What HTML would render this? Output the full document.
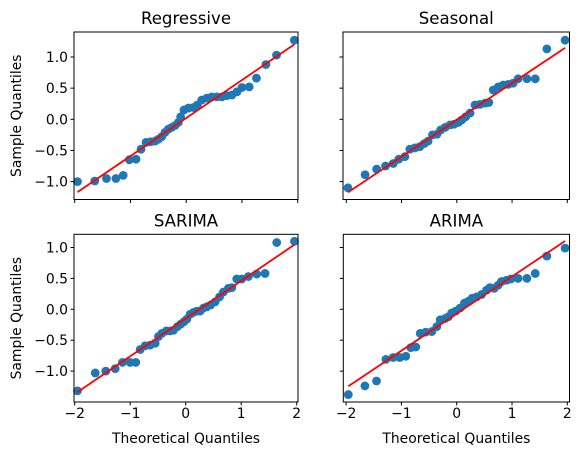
<!DOCTYPE html>
<html><head><meta charset="utf-8"><style>
body{margin:0;background:#fff}
svg{display:block;font-family:"DejaVu Sans","Liberation Sans",sans-serif}
</style></head><body>
<svg id="c" width="581" height="455" viewBox="0 0 581 455"></svg>
<script>
// ---- data ----
const titles = ["Regressive","Seasonal","SARIMA","ARIMA"];
const xTicks = [-2,-1,0,1,2];
const xTickLabels = ["\u22122","\u22121","0","1","2"];
const yTicksTop = [-1.0,-0.5,0.0,0.5,1.0];
const yTickLabelsTop = ["\u22121.0","\u22120.5","0.0","0.5","1.0"];
const yTicksBot = [-1.0,-0.5,0.0,0.5,1.0];
const yTickLabelsBot = ["\u22121.0","\u22120.5","0.0","0.5","1.0"];

const regX = [-1.95,-1.64,-1.43,-1.26,-1.13,-1.02,-0.90,-0.81,-0.72,-0.64,-0.56,-0.50,-0.44,-0.38,-0.32,-0.26,-0.20,-0.14,-0.10,-0.04,0.04,0.13,0.20,0.28,0.37,0.46,0.55,0.64,0.73,0.82,0.91,1.00,1.13,1.26,1.43,1.62,1.94];
const regY = [-1.00,-0.99,-0.95,-0.95,-0.90,-0.65,-0.64,-0.48,-0.37,-0.36,-0.35,-0.32,-0.28,-0.21,-0.16,-0.13,-0.10,-0.05,0.04,0.15,0.18,0.19,0.23,0.31,0.34,0.36,0.36,0.36,0.38,0.39,0.44,0.51,0.52,0.66,0.88,1.03,1.27];
const regLine = [0.61,0.02];

const seaX = [-1.97,-1.66,-1.45,-1.29,-1.15,-1.05,-0.94,-0.85,-0.76,-0.67,-0.59,-0.52,-0.44,-0.36,-0.29,-0.21,-0.12,-0.05,0.03,0.09,0.16,0.24,0.33,0.42,0.51,0.58,0.66,0.75,0.84,0.93,1.02,1.11,1.27,1.42,1.63,1.96];
const seaY = [-1.10,-0.89,-0.80,-0.75,-0.71,-0.64,-0.60,-0.48,-0.46,-0.44,-0.39,-0.35,-0.25,-0.24,-0.17,-0.13,-0.09,-0.08,-0.05,-0.01,0.04,0.10,0.23,0.24,0.26,0.27,0.47,0.52,0.55,0.56,0.58,0.65,0.65,0.65,1.13,1.27];
const seaLine = [0.59,-0.01];

const sarX = [-1.95,-1.63,-1.44,-1.27,-1.14,-1.00,-0.90,-0.82,-0.73,-0.64,-0.55,-0.49,-0.43,-0.35,-0.28,-0.22,-0.15,-0.09,-0.03,0.02,0.08,0.14,0.20,0.26,0.32,0.38,0.45,0.53,0.61,0.68,0.77,0.83,0.92,1.01,1.13,1.28,1.43,1.64,1.96];
const sarY = [-1.32,-1.03,-1.00,-0.96,-0.86,-0.86,-0.86,-0.65,-0.59,-0.58,-0.55,-0.44,-0.39,-0.35,-0.35,-0.34,-0.28,-0.24,-0.20,-0.16,-0.08,-0.05,-0.03,-0.03,0.02,0.04,0.07,0.12,0.20,0.28,0.34,0.35,0.49,0.49,0.53,0.57,0.58,1.08,1.10];
const sarLine = [0.61,-0.15];

const ariX = [-1.96,-1.66,-1.45,-1.28,-1.15,-1.03,-0.92,-0.83,-0.74,-0.66,-0.56,-0.45,-0.36,-0.30,-0.21,-0.15,-0.09,-0.02,0.06,0.14,0.21,0.28,0.36,0.45,0.54,0.60,0.68,0.75,0.81,0.90,0.98,1.11,1.27,1.42,1.63,1.96];
const ariY = [-1.38,-1.24,-1.16,-0.81,-0.78,-0.78,-0.76,-0.62,-0.61,-0.39,-0.37,-0.36,-0.28,-0.17,-0.15,-0.12,-0.06,-0.03,0.02,0.10,0.13,0.18,0.20,0.24,0.31,0.35,0.34,0.39,0.45,0.47,0.49,0.50,0.50,0.58,0.86,0.99];
const ariLine = [0.60,-0.07];

// ---- layout ----
const NS="http://www.w3.org/2000/svg";
const svg=document.getElementById('c');
function mk(tag,attrs,parent){const e=document.createElementNS(NS,tag);for(const k in attrs)e.setAttribute(k,attrs[k]);(parent||svg).appendChild(e);return e;}

const panels=[
 {t:0,xs:regX,ys:regY,ln:regLine,box:[74,32,298,199.5],x0:186.2,xu:55.75,y0:119.3,yu:62.3,ylab:true,xlab:false,yt:yTicksTop,ytl:yTickLabelsTop,name:'regressive'},
 {t:1,xs:seaX,ys:seaY,ln:seaLine,box:[343,32,569.5,199.5],x0:456.8,xu:55.25,y0:119.3,yu:62.3,ylab:false,xlab:false,yt:yTicksTop,ytl:yTickLabelsTop,name:'seasonal'},
 {t:2,xs:sarX,ys:sarY,ln:sarLine,box:[74,234.3,298,402],x0:185.7,xu:55.5,y0:309.3,yu:61.8,ylab:true,xlab:true,yt:yTicksBot,ytl:yTickLabelsBot,name:'sarima'},
 {t:3,xs:ariX,ys:ariY,ln:ariLine,box:[343.3,234.3,569.5,402],x0:456.7,xu:55.3,y0:309.3,yu:61.8,ylab:false,xlab:true,yt:yTicksBot,ytl:yTickLabelsBot,name:'arima'}
];

panels.forEach(p=>{
 const g=mk('g',{});
 
 
 const sx=v=>p.x0+v*p.xu, sy=v=>p.y0-v*p.yu;
 const [l,t,r,b]=p.box;
 p.xs.forEach((xv,i)=>{
  const c=mk('circle',{cx:sx(xv),cy:sy(p.ys[i]),r:4.4,fill:'#1f77b4'},g);
  
  
 });
 const xa=p.xs[0], xb=p.xs[p.xs.length-1];
 const ln=mk('line',{x1:sx(xa),y1:sy(p.ln[0]*xa+p.ln[1]),x2:sx(xb),y2:sy(p.ln[0]*xb+p.ln[1]),stroke:'#ff0000','stroke-width':1.8},g);
 
 
 const fr=mk('rect',{x:l,y:t,width:r-l,height:b-t,fill:'none',stroke:'#000','stroke-width':1},g);
 
 
 xTicks.forEach((v,i)=>{
  mk('line',{x1:sx(v),x2:sx(v),y1:b,y2:b+3.5,stroke:'#000','stroke-width':1},g);
  if(p.xlab){
   const tx=mk('text',{x:sx(v),y:b+16,'font-size':13.9,'text-anchor':'middle',fill:'#000'},g);
   tx.textContent=xTickLabels[i];
   
   
  }
 });
 p.yt.forEach((v,i)=>{
  mk('line',{x1:l-3.5,x2:l,y1:sy(v),y2:sy(v),stroke:'#000','stroke-width':1},g);
  if(p.ylab){
   const tx=mk('text',{x:l-6,y:sy(v)+5,'font-size':13.9,'text-anchor':'end',fill:'#000'},g);
   tx.textContent=p.ytl[i];
   
   
  }
 });
 const ti=mk('text',{x:(l+r)/2,y:t-8,'font-size':16.6,'text-anchor':'middle',fill:'#000'},g);
 ti.textContent=titles[p.t];
 
 
 if(p.xlab){
  const xl=mk('text',{x:(l+r)/2,y:443,'font-size':13.9,'text-anchor':'middle',fill:'#000'},g);
  xl.textContent='Theoretical Quantiles';
  
  
 }
 if(p.ylab){
  const cy=(t+b)/2;
  const yl=mk('text',{x:21,y:cy,'font-size':13.9,'text-anchor':'middle',fill:'#000',transform:`rotate(-90 21 ${cy})`},g);
  yl.textContent='Sample Quantiles';
  
  
 }
});
</script>
</body></html>
